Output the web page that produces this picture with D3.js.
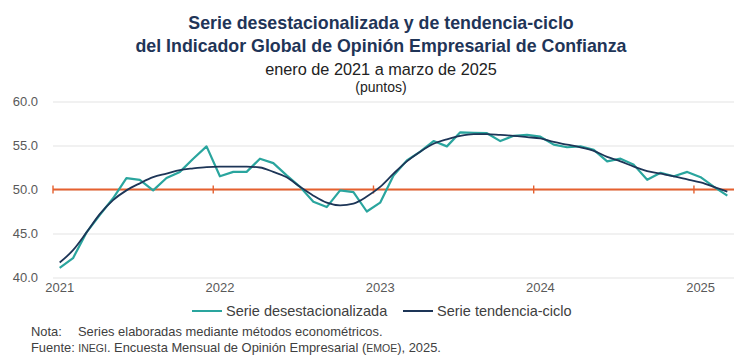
<!DOCTYPE html>
<html lang="es">
<head>
  <meta charset="UTF-8">
  <title>Indicador Global de Opinión Empresarial de Confianza</title>
  <script src="https://d3js.org/d3.v7.min.js"></script>
  <style>
    body { margin: 0; background: #fff; font-family: "Liberation Sans", Arial, sans-serif; }
    .axis text { fill: #595959; font-size: 13px; font-family: "Liberation Sans", Arial, sans-serif; }
  </style>
</head>
<body>
  <div id="chart"></div>
  <script>
    // meses (categorías)
    const months = [
      "2021-01","2021-02","2021-03","2021-04","2021-05","2021-06","2021-07","2021-08","2021-09","2021-10","2021-11","2021-12",
      "2022-01","2022-02","2022-03","2022-04","2022-05","2022-06","2022-07","2022-08","2022-09","2022-10","2022-11","2022-12",
      "2023-01","2023-02","2023-03","2023-04","2023-05","2023-06","2023-07","2023-08","2023-09","2023-10","2023-11","2023-12",
      "2024-01","2024-02","2024-03","2024-04","2024-05","2024-06","2024-07","2024-08","2024-09","2024-10","2024-11","2024-12",
      "2025-01","2025-02","2025-03"
    ];
    const yearTicks = ["2021-01","2022-01","2023-01","2024-01","2025-01"];
    const yTicks = [40, 45, 50, 55, 60];

    const desest = [
      41.1, 42.2, 45.1, 47.1, 49.0, 51.3, 51.1, 49.9, 51.3, 52.0, 53.5, 54.9,
      51.5, 52.0, 52.0, 53.5, 53.0, 51.6, 50.3, 48.6, 48.0, 49.9, 49.7, 47.5,
      48.5, 51.6, 53.3, 54.3, 55.5, 54.9, 56.5, 56.45, 56.4, 55.5, 56.1, 56.2,
      56.0, 55.1, 54.8, 54.9, 54.5, 53.2, 53.5, 52.8, 51.1, 51.9, 51.5, 52.0,
      51.4, 50.3, 49.3
    ];
    const tendencia = [
      41.7, 43.1, 45.1, 47.2, 48.8, 49.9, 50.7, 51.4, 51.8, 52.2, 52.4, 52.55,
      52.6, 52.6, 52.6, 52.5, 52.0, 51.4, 50.3, 49.3, 48.5, 48.2, 48.4, 49.2,
      50.3, 51.8, 53.2, 54.3, 55.2, 55.7, 56.1, 56.3, 56.3, 56.2, 56.1, 55.95,
      55.8, 55.4, 55.1, 54.8, 54.4, 53.7, 53.2, 52.6, 52.1, 51.8, 51.5, 51.15,
      50.8, 50.3, 49.75
    ];
    const refValue = 50;

    const W = 750, H = 363;
    const pLeft = 53, pRight = 734, pTop = 101.5, pBottom = 277.5;
    const navy = "#1d3557", teal = "#2aa59e", orange = "#e5602f", grey = "#404040";

    const svg = d3.select("#chart").append("svg")
      .attr("width", W).attr("height", H);

    const x = d3.scaleBand().domain(months).range([pLeft, pRight]);
    const y = d3.scaleLinear().domain([40, 60]).range([pBottom, pTop]);
    const cx = m => x(m) + x.bandwidth() / 2;

    // títulos
    const titles = [
      { t: "Serie desestacionalizada y de tendencia-ciclo", y: 29, s: 17.8, w: "bold", c: "#1f3558" },
      { t: "del Indicador Global de Opinión Empresarial de Confianza", y: 52, s: 17.8, w: "bold", c: "#1f3558" },
      { t: "enero de 2021 a marzo de 2025", y: 75, s: 16.3, w: "normal", c: "#222" },
      { t: "(puntos)", y: 92, s: 14, w: "normal", c: "#222" }
    ];
    svg.selectAll("text.title").data(titles).enter().append("text")
      .attr("class", "title")
      .attr("x", 381).attr("y", d => d.y)
      .attr("text-anchor", "middle")
      .attr("font-size", d => d.s)
      .attr("font-weight", d => d.w)
      .attr("fill", d => d.c)
      .text(d => d.t);

    // cuadrícula y eje Y
    const yAxis = svg.append("g").attr("class", "axis")
      .attr("transform", `translate(${pLeft},0)`)
      .call(d3.axisLeft(y).tickValues(yTicks).tickFormat(d3.format(".1f")).tickSize(-(pRight - pLeft)).tickPadding(15));
    yAxis.select(".domain").remove();
    yAxis.selectAll(".tick line").attr("stroke", "#e3e3e3");

    // eje X
    const xAxis = svg.append("g").attr("class", "axis")
      .attr("transform", `translate(0,${pBottom})`)
      .call(d3.axisBottom(x).tickValues(yearTicks).tickFormat(m => m.slice(0, 4)).tickSize(0).tickPadding(5));
    xAxis.select(".domain").remove();

    // línea de referencia (50)
    svg.append("line")
      .attr("x1", pLeft).attr("x2", pRight)
      .attr("y1", y(refValue)).attr("y2", y(refValue))
      .attr("stroke", orange).attr("stroke-width", 1.8);
    svg.selectAll("line.rtick").data(yearTicks).enter().append("line")
      .attr("class", "rtick")
      .attr("x1", d => x(d)).attr("x2", d => x(d))
      .attr("y1", y(refValue) - 4).attr("y2", y(refValue) + 4)
      .attr("stroke", orange).attr("stroke-width", 1.4);

    const line = d3.line().x((d, i) => cx(months[i])).y(d => y(d));

    svg.append("path").datum(desest)
      .attr("d", line).attr("fill", "none")
      .attr("stroke", teal).attr("stroke-width", 2.2).attr("stroke-linejoin", "round");

    svg.append("path").datum(tendencia)
      .attr("d", line.curve(d3.curveMonotoneX)).attr("fill", "none")
      .attr("stroke", navy).attr("stroke-width", 1.8);

    // leyenda
    const legend = [
      { t: "Serie desestacionalizada", c: teal, x: 192 },
      { t: "Serie tendencia-ciclo", c: navy, x: 403 }
    ];
    const lg = svg.selectAll("g.leg").data(legend).enter().append("g")
      .attr("transform", d => `translate(${d.x},311)`);
    lg.append("line").attr("x1", 0).attr("x2", 30).attr("y1", 0).attr("y2", 0)
      .attr("stroke", d => d.c).attr("stroke-width", 2);
    lg.append("text").attr("x", 34).attr("y", 5)
      .attr("font-size", 14.5).attr("fill", grey).text(d => d.t);

    // notas
    const nota = svg.append("g").attr("font-size", 12.9).attr("fill", grey);
    nota.append("text").attr("x", 31).attr("y", 336).text("Nota:");
    nota.append("text").attr("x", 78).attr("y", 336).text("Series elaboradas mediante métodos econométricos.");
    const f = nota.append("text").attr("x", 31).attr("y", 352);
    f.append("tspan").text("Fuente: ");
    f.append("tspan").attr("font-size", 10.5).text("INEGI");
    f.append("tspan").text(". Encuesta Mensual de Opinión Empresarial (");
    f.append("tspan").attr("font-size", 10.5).text("EMOE");
    f.append("tspan").text("), 2025.");
  </script>
</body>
</html>
